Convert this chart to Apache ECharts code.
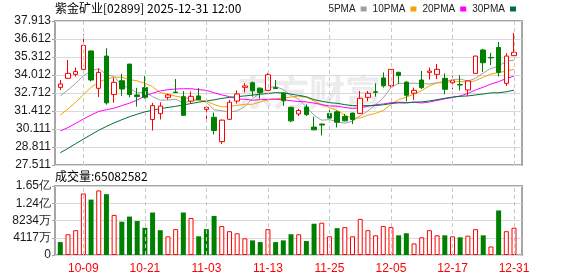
<!DOCTYPE html>
<html><head><meta charset="utf-8">
<script src="https://cdn.jsdelivr.net/npm/echarts@6/dist/echarts.min.js"></script>
<style>html,body{margin:0;padding:0;background:#fff}#c{width:578px;height:276px}</style>
</head><body><div id="c"></div>
<script>
const dates = ['10-03','10-06','10-08','10-09','10-10','10-13','10-14','10-15','10-16','10-17',
  '10-20','10-21','10-22','10-23','10-24','10-27','10-28','10-30','10-31','11-03',
  '11-04','11-05','11-06','11-07','11-10','11-11','11-12','11-13','11-14','11-17',
  '11-18','11-19','11-20','11-21','11-24','11-25','11-26','11-27','11-28','12-01',
  '12-02','12-03','12-04','12-05','12-08','12-09','12-10','12-11','12-12','12-15',
  '12-16','12-17','12-18','12-19','12-22','12-23','12-24','12-29','12-30','12-31'];
const opens = [33.12,33.77,34.06,34.42,35.75,33.05,35.38,32.60,33.60,34.80,
  32.57,33.10,30.80,31.22,32.40,32.78,32.45,32.13,32.50,31.53,
  30.96,29.20,30.81,32.13,33.12,33.45,33.06,32.90,33.10,32.70,
  31.68,31.20,31.70,30.25,30.47,31.24,31.35,31.02,31.26,31.24,
  32.40,32.80,33.80,33.24,34.21,33.50,32.70,33.65,34.20,34.06,
  33.77,33.45,33.32,32.93,34.13,35.82,35.28,36.00,33.41,35.41];
const closes = [33.36,34.13,34.26,36.15,33.65,34.20,32.00,33.48,33.00,32.60,
  32.45,32.40,31.80,31.77,32.57,32.74,31.10,32.47,32.23,31.68,
  30.00,30.75,32.05,32.64,33.22,32.87,32.73,34.03,33.03,32.15,
  30.70,31.45,31.15,30.05,30.40,30.90,30.60,30.70,30.80,32.33,
  32.69,32.76,33.23,34.42,33.98,32.55,32.90,33.10,34.30,34.42,
  32.98,33.60,33.29,33.58,35.38,34.90,35.25,34.20,35.38,35.65];
const lows = [32.93,33.72,33.90,34.15,33.55,32.43,31.87,32.00,32.50,32.40,
  31.73,32.30,30.00,30.80,32.23,32.72,31.05,31.93,32.20,30.64,
  29.72,29.03,30.78,31.95,32.75,32.45,32.30,32.88,33.00,31.78,
  30.60,31.05,31.05,30.03,29.65,30.85,30.22,30.66,30.47,31.20,
  32.12,32.45,33.10,33.10,33.36,32.10,32.20,33.00,33.68,33.72,
  32.62,32.98,32.90,32.52,34.10,34.22,34.73,33.90,33.22,35.40];
const highs = [33.65,35.10,34.55,36.95,35.78,34.47,35.95,33.80,34.10,34.82,
  33.08,33.94,32.00,32.04,32.66,33.72,32.85,32.82,33.08,31.85,
  31.30,30.80,32.20,32.90,33.42,33.55,33.12,34.15,33.65,32.78,
  31.72,31.57,31.90,31.00,30.50,31.50,31.45,31.20,31.30,32.86,
  32.86,33.41,34.20,34.45,34.22,33.55,33.10,34.30,34.55,34.81,
  34.13,33.94,34.00,33.62,35.40,35.90,35.62,36.40,35.58,37.05];
const volumes = [30800000,49500000,59200000,146800000,132200000,154100000,145200000,95700000,79500000,91700000,
  81100000,64900000,101400000,59200000,44600000,61700000,101400000,88400000,44600000,61700000,
  93300000,69000000,56800000,51900000,39800000,34900000,30800000,61700000,30800000,34900000,
  49500000,49500000,33300000,74600000,77100000,44600000,64100000,66500000,44600000,86000000,
  59200000,47000000,69000000,66500000,47000000,51900000,27600000,42200000,59200000,47000000,
  47000000,44600000,42200000,46200000,61700000,47000000,20300000,106300000,56800000,65082582];
const ma5 = [32.50,32.93,33.41,33.95,34.31,34.48,34.05,33.90,33.27,33.06,
  32.71,32.79,32.45,32.20,32.20,32.26,32.00,32.13,32.22,32.04,
  31.50,31.43,31.34,31.42,31.73,32.31,32.70,33.10,33.18,32.96,
  32.53,32.27,31.70,31.10,30.75,30.79,30.62,30.53,30.68,31.07,
  31.42,31.86,32.36,33.09,33.42,33.39,33.42,33.39,33.37,33.45,
  33.54,33.68,33.72,33.57,33.77,34.15,34.48,34.66,35.02,35.08];
const ma10 = [31.12,31.56,32.04,32.58,33.12,33.50,33.72,33.85,33.85,33.68,
  33.59,33.42,33.17,32.74,32.63,32.48,32.39,32.29,32.21,32.12,
  31.88,31.71,31.74,31.82,31.89,31.90,32.06,32.22,32.30,32.35,
  32.42,32.49,32.40,32.14,31.86,31.66,31.45,31.11,30.89,30.91,
  31.11,31.24,31.45,31.88,32.24,32.41,32.64,32.88,33.23,33.44,
  33.46,33.55,33.55,33.47,33.61,33.85,34.08,34.19,34.30,34.42];
const ma20 = [29.97,30.21,30.52,30.83,31.12,31.38,31.50,31.62,31.80,31.98,
  32.20,32.50,32.70,32.86,32.95,33.00,33.02,33.02,32.96,32.90,
  32.73,32.57,32.45,32.28,32.26,32.19,32.23,32.26,32.26,32.23,
  32.15,32.10,32.07,31.98,31.87,31.78,31.76,31.67,31.60,31.63,
  31.76,31.86,31.92,32.01,32.05,32.03,32.04,31.99,32.06,32.17,
  32.29,32.39,32.50,32.68,32.93,33.13,33.36,33.53,33.76,33.93];
const ma30 = [28.40,28.71,29.05,29.38,29.70,30.02,30.30,30.55,30.78,31.00,
  31.18,31.35,31.47,31.58,31.67,31.75,31.85,31.95,32.05,32.13,
  32.22,32.32,32.40,32.45,32.50,32.56,32.62,32.68,32.74,32.72,
  32.63,32.54,32.44,32.23,32.12,32.01,31.97,31.87,31.80,31.79,
  31.80,31.81,31.86,31.95,32.00,31.99,32.05,32.07,32.14,32.23,
  32.33,32.42,32.47,32.50,32.57,32.64,32.72,32.73,32.80,32.92];
const prevClose = 33.80;
const priceTickLabels = ['27.511','28.811','30.111','31.412','32.712','34.012','35.312','36.612','37.913'];
const volumeTickLabels = ['0','4117万','8234万','1.24亿','1.65亿'];
const dateTickLabels = ['10-09','10-21','11-03','11-13','11-25','12-05','12-17','12-31'];
const priceMin = 27.511, priceMax = 37.913, volumeMax = 164680000;
const titleText = '紫金矿业[02899] 2025-12-31 12:00';
const volumeTitle = '成交量:65082582';

const UP = '#ff0000', DOWN = '#008000';
const candleData = opens.map((o, i) => [o, closes[i], lows[i], highs[i]]);
const volUp = volumes.map((v, i) => (closes[i] >= (i ? closes[i - 1] : prevClose)) ? v : '-');
const volDown = volumes.map((v, i) => (closes[i] >= (i ? closes[i - 1] : prevClose)) ? '-' : v);
const vLines = dateTickLabels.map(d => ({ xAxis: d }));
const dashStyle = { color: '#c8c8c8', type: [4, 3], width: 1 };
const mlOpt = { silent: true, symbol: 'none', label: { show: false }, lineStyle: dashStyle, animation: false, data: vLines };

const FONT = 'Liberation Sans, Arial, sans-serif';
const chart = echarts.init(document.getElementById('c'), null, { renderer: 'canvas' });
const L = 56.45, W = 461.4;
const maLine = (name, data, color) => ({
  name, type: 'line', data, xAxisIndex: 0, yAxisIndex: 0, symbol: 'none', showSymbol: false,
  lineStyle: { width: 1, color }, itemStyle: { color }, z: 2, silent: true
});
chart.setOption({
  animation: false,
  backgroundColor: '#fff',
  title: [
    { text: titleText, left: 55, top: 2, padding: 0, textStyle: { fontSize: 12, fontWeight: 'normal', color: '#000', fontFamily: 'Noto Sans CJK SC' } },
    { text: volumeTitle, left: 55, top: 170, padding: 0, textStyle: { fontSize: 12, fontWeight: 'normal', color: '#000', fontFamily: 'Noto Sans CJK SC' } }
  ],
  legend: {
    data: ['5PMA', '10PMA', '20PMA', '30PMA'], top: 4, right: 62, align: 'right', icon: 'rect',
    itemWidth: 6, itemHeight: 5, itemGap: 6, padding: 0,
    textStyle: { fontSize: 10, color: '#222', fontFamily: FONT, padding: [0, 0, 0, 0] }
  },
  graphic: [{ type: 'text', left: 237, top: 74, z: -10, silent: true,
    style: { text: '东方财富', fontSize: 36, fontWeight: 'bold', fill: '#ececec', fontFamily: 'Noto Sans CJK SC' } }],
  grid: [
    { left: L, top: 21, width: W, height: 144 },
    { left: L, top: 186, width: W, height: 69 },
    { left: 55, top: 21, width: 467, height: 144, show: true, borderColor: '#a6a6a6', borderWidth: 2, backgroundColor: 'transparent', z: 0 },
    { left: 55, top: 186, width: 467, height: 69, show: true, borderColor: '#a6a6a6', borderWidth: 2, backgroundColor: 'transparent', z: 0 }
  ],
  xAxis: [
    { type: 'category', gridIndex: 0, data: dates, boundaryGap: true, axisLine: { show: false }, axisTick: { show: false }, axisLabel: { show: false }, splitLine: { show: false } },
    { type: 'category', gridIndex: 1, data: dates, boundaryGap: true, axisLine: { show: false }, axisTick: { show: false }, splitLine: { show: false },
      axisLabel: { show: true, interval: (idx, val) => dateTickLabels.includes(val), color: '#ff0000', fontSize: 12, fontFamily: FONT, margin: 8 } },
    { type: 'value', gridIndex: 2, min: 0, max: 1, show: false },
    { type: 'value', gridIndex: 3, min: 0, max: 1, show: false }
  ],
  yAxis: [
    { type: 'value', gridIndex: 0, min: priceMin, max: priceMax, show: false, splitLine: { show: false } },
    { type: 'value', gridIndex: 1, min: 0, max: volumeMax, show: false, splitLine: { show: false } },
    { type: 'value', gridIndex: 2, min: 0, max: priceTickLabels.length - 1, interval: 1,
      axisLine: { show: false }, axisTick: { show: true, length: 3, lineStyle: { color: '#a6a6a6' } },
      splitLine: { show: true, lineStyle: { color: '#d9d9d9', width: 1 } },
      axisLabel: { formatter: v => priceTickLabels[Math.round(v)], color: '#1a1a1a', fontSize: 12, fontFamily: FONT, margin: 4 } },
    { type: 'value', gridIndex: 3, min: 0, max: volumeTickLabels.length - 1, interval: 1,
      axisLine: { show: false }, axisTick: { show: true, length: 3, lineStyle: { color: '#a6a6a6' } },
      splitLine: { show: true, lineStyle: { color: '#d9d9d9', width: 1 } },
      axisLabel: { formatter: v => volumeTickLabels[Math.round(v)], color: '#1a1a1a', fontSize: 12, fontFamily: FONT, margin: 4 } }
  ],
  series: [
    maLine('5PMA', ma5, '#a0a0a0'),
    maLine('10PMA', ma10, '#f5a300'),
    maLine('20PMA', ma20, '#ff00ff'),
    maLine('30PMA', ma30, '#00703a'),
    { type: 'line', data: [], xAxisIndex: 0, yAxisIndex: 0, markLine: mlOpt, silent: true, z: 1 },
    { type: 'candlestick', xAxisIndex: 0, yAxisIndex: 0, data: candleData, barWidth: 5, z: 3, silent: true,
      itemStyle: { color: '#ffffff', color0: DOWN, borderColor: UP, borderColor0: DOWN, borderWidth: 1 } },
    { type: 'bar', xAxisIndex: 1, yAxisIndex: 1, data: volUp, barWidth: 5, barGap: '-100%', silent: true,
      itemStyle: { color: '#ffffff', borderColor: UP, borderWidth: 1 }, markLine: mlOpt, z: 3 },
    { type: 'bar', xAxisIndex: 1, yAxisIndex: 1, data: volDown, barWidth: 5, barGap: '-100%', silent: true,
      itemStyle: { color: DOWN }, z: 3 }
  ]
});
</script>
</body></html>
